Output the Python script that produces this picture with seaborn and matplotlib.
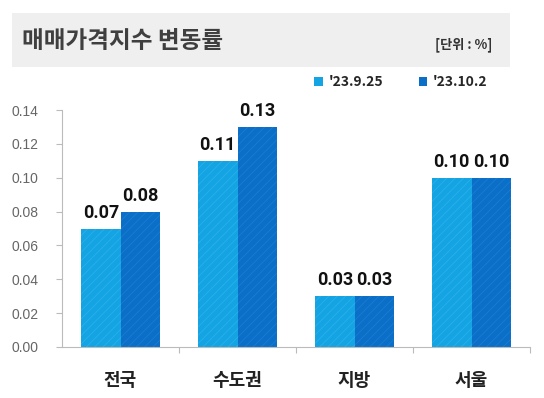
import pandas as pd
import seaborn as sns
import matplotlib.pyplot as plt
from matplotlib.patches import Rectangle
from matplotlib.ticker import MultipleLocator, FixedLocator

sns.set_theme(style="white")
plt.rcParams["font.family"] = ["Noto Sans CJK KR", "DejaVu Sans"]
plt.rcParams["hatch.linewidth"] = 0.6

regions = ["전국", "수도권", "지방", "서울"]
dates = ["'23.9.25", "'23.10.2"]
week1 = [0.07, 0.11, 0.03, 0.10]
week2 = [0.08, 0.13, 0.03, 0.10]
colors = ["#14A3E3", "#0B6FC8"]
hatch_colors = ["#2AB0EA", "#1A7CD2"]

df = pd.DataFrame({
    "region": regions * 2,
    "date": [dates[0]] * 4 + [dates[1]] * 4,
    "value": week1 + week2,
})

fig = plt.figure(figsize=(5.44, 3.98), dpi=100)
fig.patch.set_facecolor("white")

# title banner
fig.patches.append(Rectangle((12 / 544, 1 - 67 / 398), 498 / 544, 54 / 398,
                             transform=fig.transFigure, facecolor="#EFEFEF",
                             edgecolor="none", zorder=0))
fig.text(22 / 544, 1 - 41 / 398, "매매가격지수 변동률", fontsize=17,
         fontweight="bold", color="#3F3F3F", va="center", ha="left")
fig.text(492 / 544, 1 - 45 / 398, "[단위 : %]", fontsize=9.5,
         fontweight="bold", color="#333333", va="center", ha="right")

ax = fig.add_axes([62 / 544, 1 - 347 / 398, 468 / 544, 237 / 398])
sns.barplot(
    data=df, x="region", y="value", hue="date",
    palette=colors, saturation=1, width=0.675, gap=0,
    edgecolor="none", linewidth=0, ax=ax,
)

for cont, hc in zip(ax.containers, hatch_colors):
    for bar in cont:
        bar.set_hatch("////")
        bar.set_edgecolor(hc)
        bar.set_linewidth(0)
    ax.bar_label(cont, fmt="%.2f", padding=5, fontsize=13,
                 fontweight="bold", color="#111111",
                 family=["Roboto", "DejaVu Sans"])

ax.set_xlim(-0.5, 3.5)
ax.set_ylim(0, 0.14)
ax.yaxis.set_major_locator(MultipleLocator(0.02))
ax.yaxis.set_major_formatter(lambda v, p: f"{v:.2f}")
ax.xaxis.set_minor_locator(FixedLocator([0.5, 1.5, 2.5, 3.5]))
ax.tick_params(axis="y", left=True, length=4, width=0.8, color="#BBBBBB",
               pad=13, labelsize=10, labelcolor="#666666")
ax.tick_params(axis="x", which="major", length=0, pad=17, labelsize=13,
               labelcolor="#222222")
ax.tick_params(axis="x", which="minor", bottom=True, length=4, width=0.8,
               color="#BBBBBB")
for lab in ax.get_xticklabels():
    lab.set_fontweight("bold")
for lab in ax.get_yticklabels():
    lab.set_family(["Liberation Sans", "DejaVu Sans"])

sns.despine(ax=ax, top=True, right=True)
for s in ["left", "bottom"]:
    ax.spines[s].set_color("#BBBBBB")
    ax.spines[s].set_linewidth(0.8)
ax.set_xlabel(None)
ax.set_ylabel(None)
ax.grid(False)

handles = [Rectangle((0, 0), 1, 1, facecolor=c, edgecolor="none") for c in colors]
ax.get_legend().remove()
fig.legend(handles, dates, loc="center right", bbox_to_anchor=(500 / 544, 1 - 82 / 398),
           ncol=2, frameon=False, handlelength=0.6, handleheight=0.6,
           handletextpad=0.4, columnspacing=2.6,
           prop={"weight": "bold", "size": 10})

fig.savefig("out.png", dpi=100)
